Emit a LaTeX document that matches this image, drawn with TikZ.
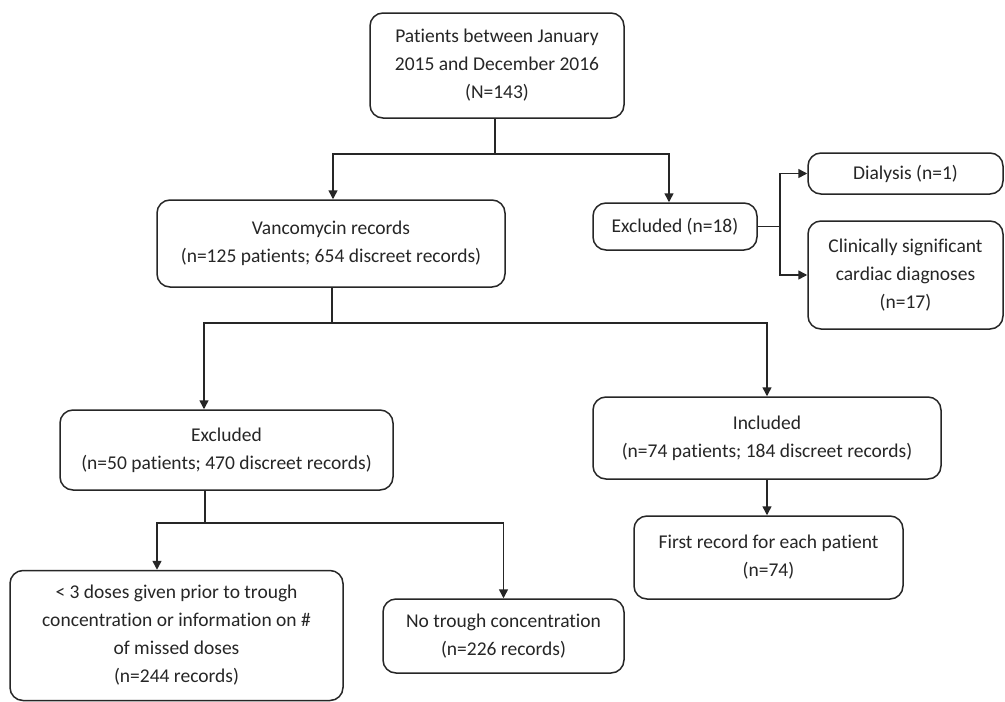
\documentclass[tikz,border=0pt]{standalone}
\usepackage{fontspec}
\setmainfont{Carlito}[Ligatures=NoCommon]
\usetikzlibrary{arrows.meta}
\begin{document}
\begin{tikzpicture}[x=1pt,y=-1pt,
  box/.style={draw=black!85, line width=1.5pt, rounded corners=13pt, align=center, inner sep=2pt,
    font=\fontsize{19.5}{28}\selectfont, text=black!85},
  conn/.style={draw=black!85, line width=1.5pt},
  arr/.style={conn, -{Triangle[length=9pt,width=9pt]}}]
\fill[white] (0,0) rectangle (1005,702);
\useasboundingbox (0,0) rectangle (1005,702);

\node[box, minimum width=254pt, minimum height=105pt] (top) at (497,65.5)
  {Patients between January\\2015 and December 2016\\(N=143)};
\node[box, minimum width=348pt, minimum height=87pt] (vanc) at (331,243.5)
  {Vancomycin records\\(n=125 patients; 654 discreet records)};
\node[box, minimum width=164pt, minimum height=47pt] (ex18) at (675,226.5)
  {Excluded (n=18)};
\node[box, minimum width=195pt, minimum height=41pt] (dial) at (905.5,173.5)
  {Dialysis (n=1)};
\node[box, minimum width=195pt, minimum height=108pt] (card) at (905.5,275)
  {Clinically significant\\cardiac diagnoses\\(n=17)};
\node[box, minimum width=333pt, minimum height=80pt] (ex50) at (226.5,450)
  {Excluded\\(n=50 patients; 470 discreet records)};
\node[box, minimum width=348pt, minimum height=82pt] (incl) at (767,438)
  {Included\\(n=74 patients; 184 discreet records)};
\node[box, minimum width=269pt, minimum height=83pt] (first) at (768.5,557.5)
  {First record for each patient\\(n=74)};
\node[box, minimum width=333pt, minimum height=130pt] (dose) at (176.5,635.5)
  {< 3 doses given prior to trough\\concentration or information on \#\\of missed doses\\(n=244 records)};
\node[box, minimum width=241pt, minimum height=74pt] (none) at (503.5,636)
  {No trough concentration\\(n=226 records)};

\coordinate (j1) at (495,154);
\coordinate (j2) at (780,226.5);
\coordinate (j3) at (332,323);
\coordinate (j4) at (205,523);

\draw[conn] (top.south -| j1) -- (j1);
\draw[arr] (j1) -| ([xshift=2pt]vanc.north);
\draw[arr] (j1) -| ([xshift=-6pt]ex18.north);
\draw[conn] (ex18.east) -- (j2);
\draw[arr] (j2) |- (dial.west);
\draw[arr] (j2) |- (card.west);
\draw[conn] (vanc.south -| j3) -- (j3);
\draw[arr] (j3) -| ([xshift=-22.5pt]ex50.north);
\draw[arr] (j3) -| (incl.north);
\draw[arr] (incl.south) -- (incl.south |- first.north);
\draw[conn] (ex50.south -| j4) -- (j4);
\draw[arr] (j4) -| ([xshift=-19.5pt]dose.north);
\draw[arr] (j4) -| (none.north);
\end{tikzpicture}
\end{document}
